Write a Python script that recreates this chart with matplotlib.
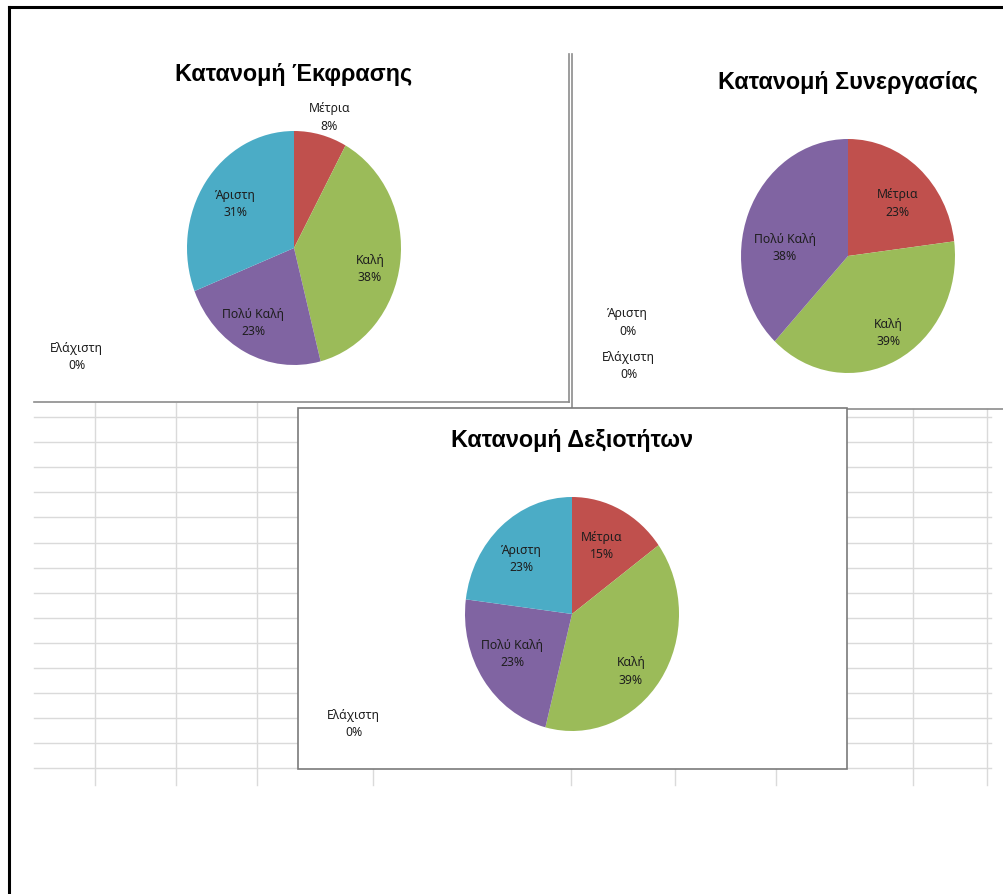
import matplotlib
matplotlib.use("Agg")
import matplotlib.pyplot as plt
from matplotlib.patches import Rectangle

plt.rcParams["font.family"] = ["Noto Sans", "DejaVu Sans"]

# ── data ────────────────────────────────────────────────────────────────────
categories = ["Ελάχιστη", "Μέτρια", "Καλή", "Πολύ Καλή", "Άριστη"]
ekfrasi    = [0, 8, 38, 23, 31]
synergasia = [0, 23, 39, 38, 0]
dexiotites = [0, 15, 39, 23, 23]
titles = ["Κατανομή Έκφρασης", "Κατανομή Συνεργασίας", "Κατανομή Δεξιοτήτων"]

# Excel 2007 default palette
COLORS = ["#4F81BD", "#C0504D", "#9BBB59", "#8064A2", "#4BACC6"]
TEXT = "#1e1e1e"
GRID = "#dadada"
FRAME = "#8c8c8c"

W, H = 1004, 894

# ── layout (pixels) ─────────────────────────────────────────────────────────
RX, RY = 107, 117
centers = [(294, 248), (848, 256), (572, 614)]
title_y = [74, 82, 441]
# label anchors in pie-radius units, same order as categories
label_pos = [
    [(-2.03, -0.93), (0.33, 1.115), (0.71, -0.18), (-0.38, -0.64), (-0.55, 0.375)],
    [(-2.05, -0.94), (0.46, 0.45), (0.38, -0.66), (-0.59, 0.07), (-2.06, -0.57)],
    [(-2.04, -0.94), (0.28, 0.58), (0.55, -0.49), (-0.56, -0.34), (-0.47, 0.47)],
]

fig = plt.figure(figsize=(W / 100, H / 100), dpi=100)
fig.patch.set_facecolor("white")

# background "worksheet" in pixel coords
bg = fig.add_axes([0, 0, 1, 1])
bg.set_xlim(0, W)
bg.set_ylim(H, 0)
bg.axis("off")

# spreadsheet grid
rows = [417 + 25.1 * k for k in range(15)]
for y in rows:
    bg.plot([34, 298], [y, y], color=GRID, lw=1.0)
    bg.plot([847, 991], [y, y], color=GRID, lw=1.0)
for x in [95, 176, 257]:
    bg.plot([x, x], [403, 785], color=GRID, lw=1.0)
for x in [913, 987]:
    bg.plot([x, x], [409, 785], color=GRID, lw=1.0)
for x in [373, 571, 675, 776]:
    bg.plot([x, x], [769, 785], color=GRID, lw=1.0)

# chart frames
bg.plot([34, 569], [402, 402], color=FRAME, lw=1.2)
bg.plot([569, 569], [54, 402], color=FRAME, lw=1.2)
bg.plot([572, 572], [54, 409], color=FRAME, lw=1.2)
bg.plot([572, W], [409, 409], color=FRAME, lw=1.2)
bg.add_patch(Rectangle((298, 408), 549, 361, facecolor="white",
                       edgecolor="#7a7a7a", lw=1.2, zorder=3))

# outer page border
bg.plot([9, W], [7, 7], color="black", lw=2.2, zorder=5)
bg.plot([9, 9], [7, H], color="black", lw=2.2, zorder=5)

# ── pies ────────────────────────────────────────────────────────────────────
series = [ekfrasi, synergasia, dexiotites]
for vals, (cx, cy), ty, pos, title in zip(series, centers, title_y, label_pos, titles):
    ax = fig.add_axes([(cx - RX) / W, (H - cy - RY) / H, 2 * RX / W, 2 * RY / H])
    ax.pie(vals, colors=COLORS, startangle=90, counterclock=False, radius=1,
           wedgeprops=dict(linewidth=0))
    ax.set_aspect("auto")
    ax.set_xlim(-1, 1)
    ax.set_ylim(-1, 1)
    ax.axis("off")
    for cat, v, (dx, dy) in zip(categories, vals, pos):
        ax.text(dx, dy, f"{cat}\n{v}%", ha="center", va="center",
                fontsize=8.8, color=TEXT, linespacing=1.45, clip_on=False)
    fig.text(cx / W, 1 - ty / H, title, ha="center", va="center",
             fontsize=16.8, fontweight="bold", color="black",
             family=["Liberation Sans", "DejaVu Sans"])

fig.savefig("out.png", dpi=100)
